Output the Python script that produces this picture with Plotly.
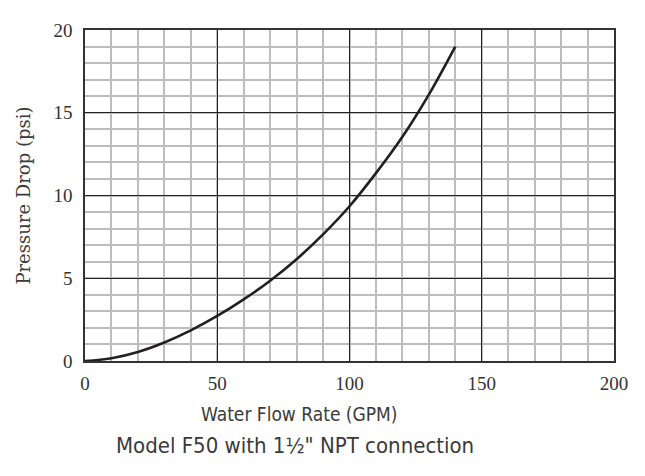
import plotly.graph_objects as go

flow_gpm = [0, 10, 20, 30, 40, 50, 60, 70, 80, 90, 100, 110, 120, 130, 140]
pressure_psi = [0, 0.17, 0.55, 1.12, 1.85, 2.72, 3.72, 4.85, 6.15, 7.65, 9.35, 11.35, 13.55, 16.1, 19.0]

x_ticks = [0, 50, 100, 150, 200]
y_ticks = [0, 5, 10, 15, 20]

x_title = "Water Flow Rate (GPM)"
y_title = "Pressure Drop (psi)"
caption = "Model F50 with 1½\" NPT connection"

tick_font = dict(family="Liberation Serif, DejaVu Serif, serif", size=19, color="#333333")
title_font_family = "Liberation Sans Narrow, DejaVu Sans Condensed, Arial Narrow, sans-serif"

fig = go.Figure()
fig.add_trace(go.Scatter(
    x=flow_gpm, y=pressure_psi, mode="lines",
    line=dict(color="#231f20", width=2.6, shape="spline", smoothing=1.0),
    hoverinfo="skip", showlegend=False,
))

fig.update_layout(
    width=645, height=476,
    margin=dict(l=77, r=39, t=17, b=123),
    paper_bgcolor="white", plot_bgcolor="white",
    xaxis=dict(
        range=[0, 200], tickvals=x_ticks, ticktext=[str(v) for v in x_ticks],
        showgrid=True, gridcolor="#222222", gridwidth=1.2,
        minor=dict(dtick=10, showgrid=True, gridcolor="#bdbdbd", gridwidth=1.5),
        showline=True, linecolor="#333333", linewidth=1.5, mirror=True,
        zeroline=False, ticks="", tickfont=tick_font, ticklabelstandoff=4,
        fixedrange=True,
    ),
    yaxis=dict(
        range=[0, 20], tickvals=y_ticks, ticktext=[str(v) for v in y_ticks],
        showgrid=True, gridcolor="#222222", gridwidth=1.2,
        minor=dict(dtick=1, showgrid=True, gridcolor="#bdbdbd", gridwidth=1.5),
        showline=True, linecolor="#333333", linewidth=1.5, mirror=True,
        zeroline=False, ticks="", tickfont=tick_font, ticklabelstandoff=7,
        fixedrange=True,
    ),
    annotations=[
        dict(text=x_title, xref="paper", yref="paper", x=0.405, y=-0.161,
             xanchor="center", yanchor="middle", showarrow=False,
             font=dict(family=title_font_family, size=19, color="#3a3a3a")),
        dict(text=caption, xref="paper", yref="paper", x=0.397, y=-0.256,
             xanchor="center", yanchor="middle", showarrow=False,
             font=dict(family=title_font_family, size=22, color="#3a3a3a")),
        dict(text=y_title, xref="paper", yref="paper", x=-0.117, y=0.5,
             xanchor="center", yanchor="middle", showarrow=False, textangle=-90,
             font=dict(family="DejaVu Serif, Liberation Serif, serif", size=18, color="#3a3a3a")),
    ],
)

fig.write_html("out.html")
